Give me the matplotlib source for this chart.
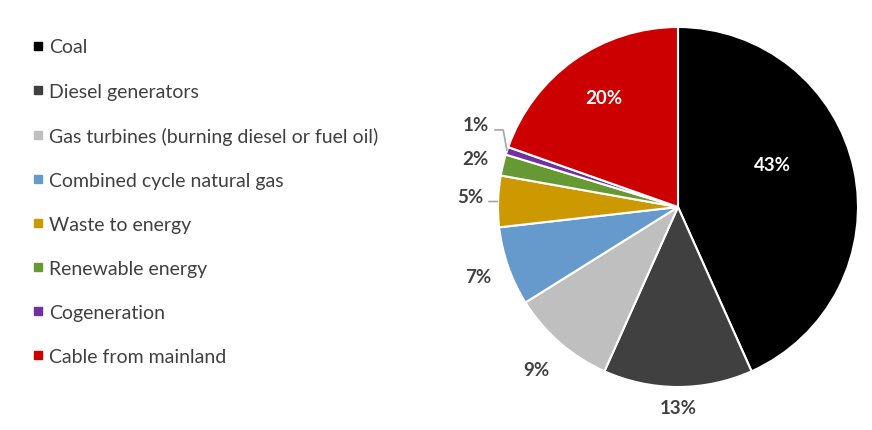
import numpy as np
import matplotlib.pyplot as plt
from matplotlib.lines import Line2D

# Share of electricity generation by source
sources = ['Coal', 'Diesel generators', 'Gas turbines (burning diesel or fuel oil)',
           'Combined cycle natural gas', 'Waste to energy', 'Renewable energy',
           'Cogeneration', 'Cable from mainland']
shares = [43.3, 13.4, 9.4, 7.1, 4.6, 1.9, 0.7, 19.6]
pct_labels = ['43%', '13%', '9%', '7%', '5%', '2%', '1%', '20%']

colors = ['#000000', '#404040', '#BFBFBF', '#6699CC', '#CC9900', '#669933', '#7030A0', '#CC0000']
text_grey = '#404040'

plt.rcParams['font.family'] = ['Lato', 'DejaVu Sans']

fig = plt.figure(figsize=(8.72, 4.31), dpi=100)

# pie axes: centre (678, 208) px, radius 180 px
W, H = 872, 431
cx, cy, r = 678, 208, 180
ax = fig.add_axes([(cx - r) / W, (H - cy - r) / H, 2 * r / W, 2 * r / H])
wedges, _ = ax.pie(shares, colors=colors, startangle=90, counterclock=False,
                   radius=1, wedgeprops=dict(edgecolor='white', linewidth=1.5))
ax.set_xlim(-1, 1)
ax.set_ylim(-1, 1)
ax.set_aspect('equal')
ax.axis('off')

# label placement: (radius, angle offset from wedge middle in degrees, extra y shift)
label_pos = [(0.574, 12.5, 0), (1.112, 0, 0), (1.2, 0, 0), (1.175, 0, 0),
             (1.156, -1.2, 0), (1.16, 0, 0), (1.18, 0, 0.09), (0.73, 0, 0)]
inside = [True, False, False, False, False, False, False, True]
leader = [False, False, False, False, True, False, True, False]

for w, lab, (rr, off, dy), ins, ld in zip(wedges, pct_labels, label_pos, inside, leader):
    mid = np.deg2rad((w.theta1 + w.theta2) / 2)
    ang = mid + np.deg2rad(off)
    x, y = rr * np.cos(ang), rr * np.sin(ang) + dy
    if lab == '20%':
        x, y = -0.411, 0.611
    ax.text(x, y, lab, ha='center', va='center', fontsize=13.5, fontweight='bold',
            color='white' if ins else text_grey)
    if ld:
        ex, ey = np.cos(mid), np.sin(mid)
        lx = x + 0.1
        ly = y - 0.03
        ax.plot([lx, lx + 0.05, ex], [ly, ly, ey], color='#A6A6A6', lw=1.2,
                clip_on=False, solid_capstyle='butt')

handles = [Line2D([0], [0], marker='s', linestyle='none', markersize=6,
                  markerfacecolor=c, markeredgecolor=c) for c in colors]
fig.legend(handles, sources, loc='upper left', bbox_to_anchor=(0.017, 0.949),
           frameon=False, fontsize=14, labelcolor=text_grey, handlelength=0.6,
           handletextpad=0.25, labelspacing=1.39)

fig.savefig('out.png', dpi=100)
